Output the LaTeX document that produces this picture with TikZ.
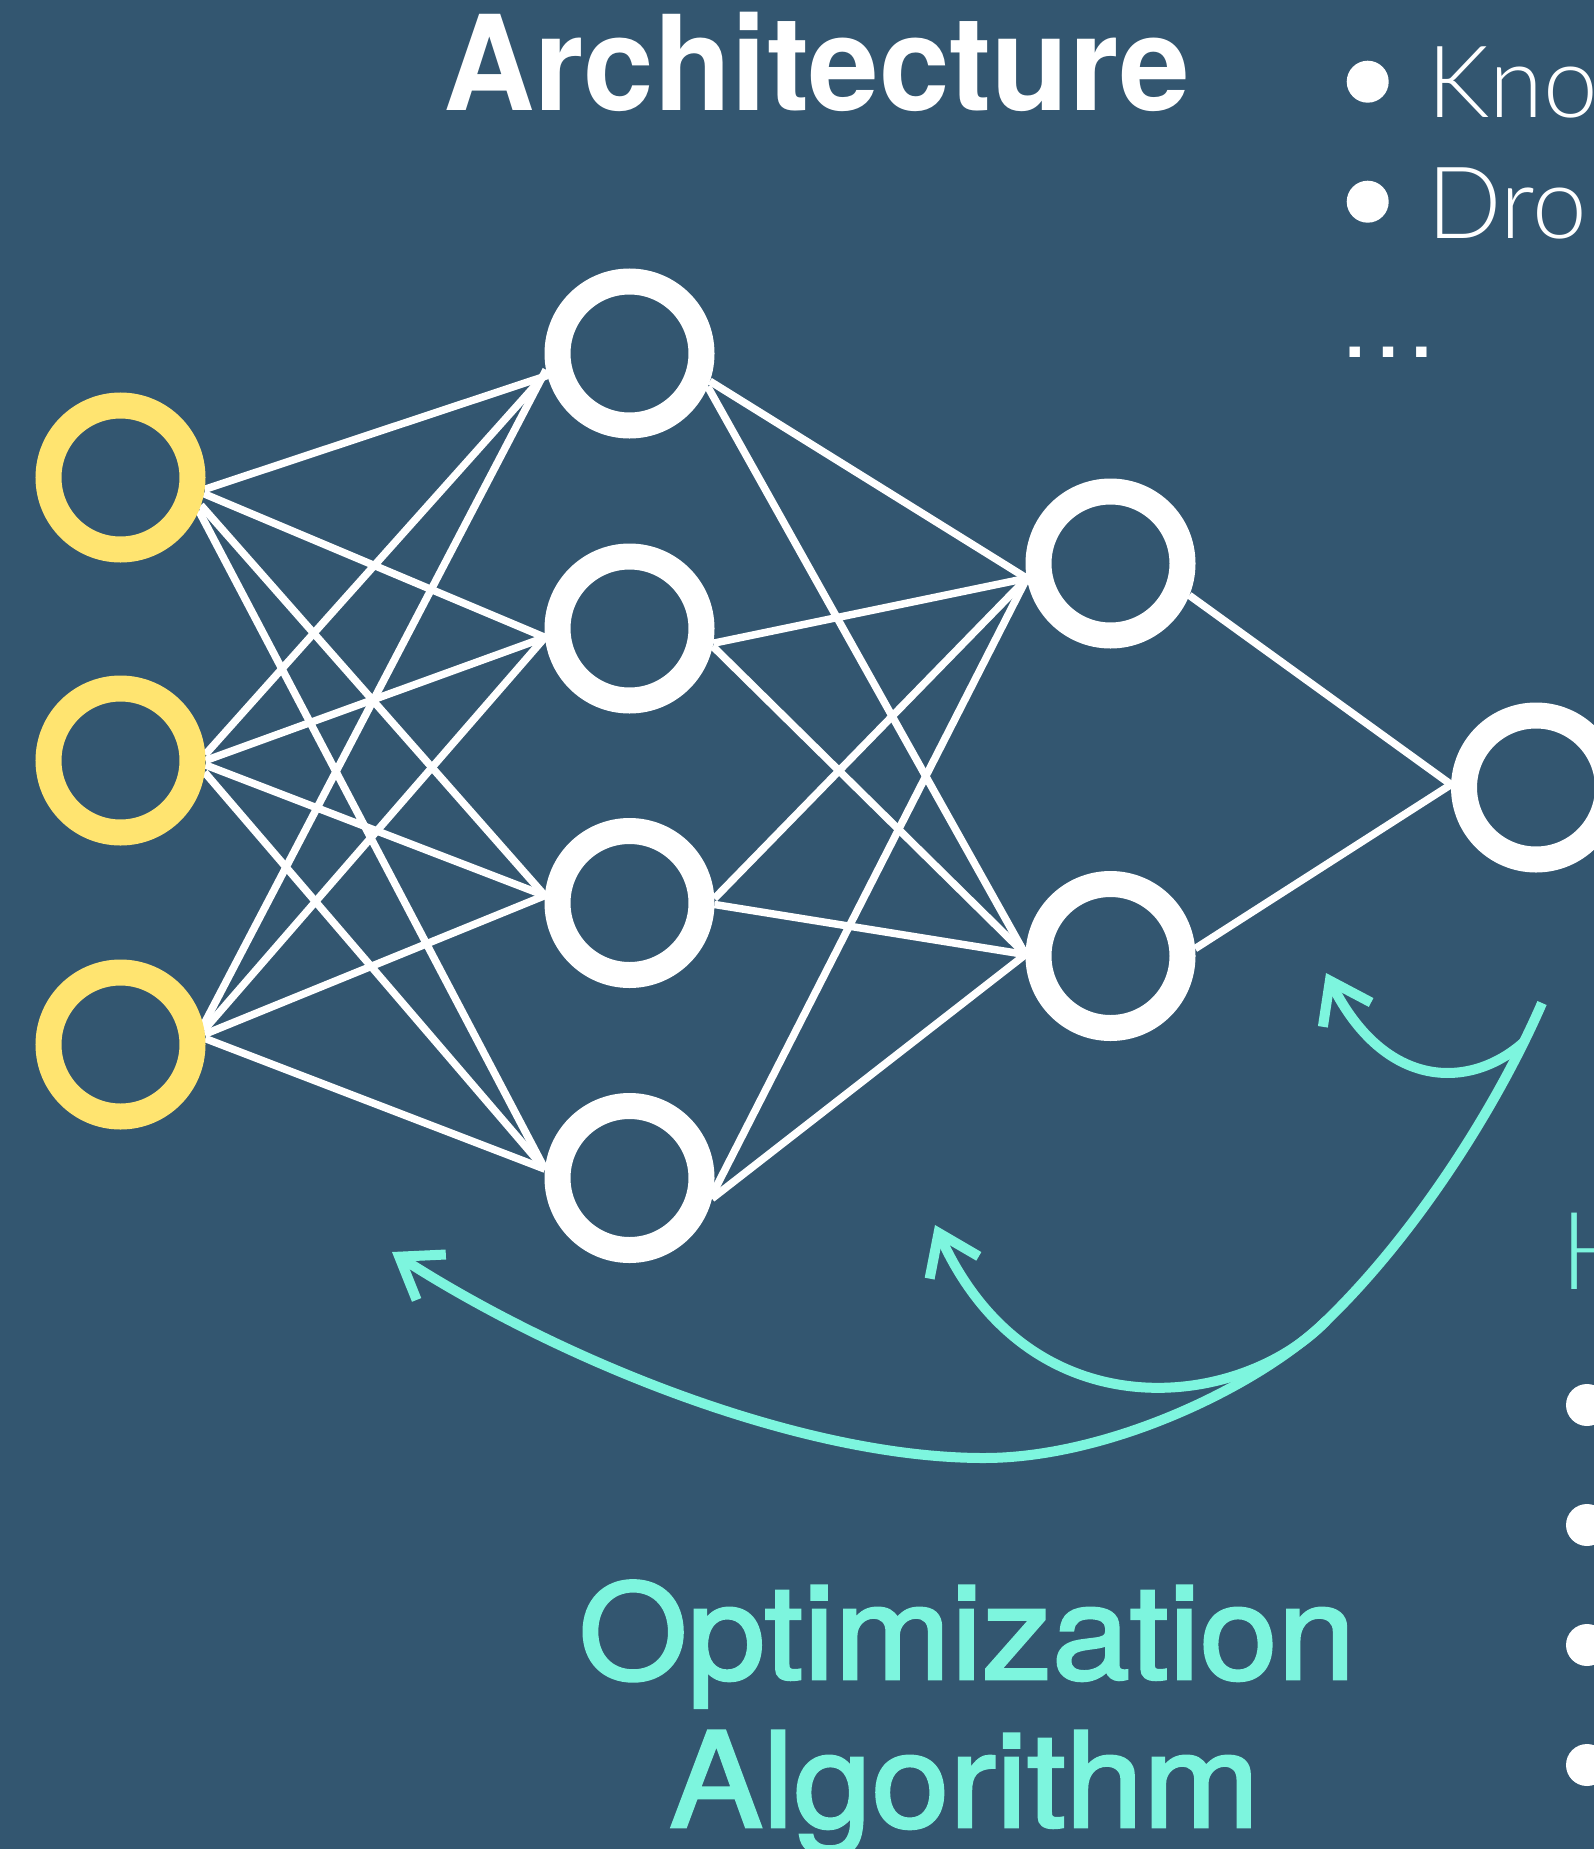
\documentclass[tikz,border=0pt]{standalone}
\usepackage{fontspec}
\usetikzlibrary{arrows.meta}
\newfontfamily\heros{TeX Gyre Heros}
\newfontfamily\herosmed[FakeBold=2]{TeX Gyre Heros}
\newfontfamily\thinsans{Lato Light}
\definecolor{bgblue}{RGB}{51,86,112}
\definecolor{inyellow}{RGB}{255,228,112}
\definecolor{mint}{RGB}{125,245,222}
\pgfdeclarelayer{bottom}
\pgfdeclarelayer{edges}
\pgfsetlayers{bottom,edges,main}
\tikzset{
  neuron/.style={circle, minimum size=144pt, inner sep=0pt, outer sep=13pt,
    line width=26pt, draw=white, fill=bgblue},
  inneuron/.style={neuron, draw=inyellow},
  link/.style={draw=white, line width=7.5pt},
  tealcurve/.style={draw=mint, line width=10pt,
    -{Straight Barb[length=38pt,width=54pt]}},
  dot/.style={circle, fill=white, inner sep=0pt},
  listtext/.style={anchor=base west, inner sep=0pt, text=white, xscale=0.98,
    font={\thinsans\fontsize{100}{100}\selectfont}},
}
\begin{document}
\begin{tikzpicture}[x=1pt,y=-1pt]
\begin{pgfonlayer}{bottom}
  \fill[bgblue] (0,0) rectangle (1594,1849);
\end{pgfonlayer}
\useasboundingbox (0,0) rectangle (1594,1849);
\clip (0,0) rectangle (1594,1849);

% input layer
\node[inneuron] (i1) at (120.5,477.5) {};
\node[inneuron] (i2) at (120.5,760.5) {};
\node[inneuron] (i3) at (120.5,1044.5) {};
% first hidden layer
\node[neuron] (h1) at (629.5,353.5) {};
\node[neuron] (h2) at (629.5,628.5) {};
\node[neuron] (h3) at (629.5,903) {};
\node[neuron] (h4) at (629.5,1178) {};
% second hidden layer
\node[neuron] (g1) at (1110.5,563.5) {};
\node[neuron] (g2) at (1110.5,956) {};
% output
\node[neuron] (o1) at (1536,787.5) {};

\begin{pgfonlayer}{edges}
  % input -> first hidden
  \draw[link] (i1.-8) -- (h1.195);
  \draw[link] (i1.-11) -- (h2.186);
  \draw[link] (i1.-19) -- (h3.175);
  \draw[link] (i1.-23) -- (h4.174);
  \draw[link] (i2.4) -- (h1.193);
  \draw[link] (i2.0) -- (h2.186);
  \draw[link] (i2.-3) -- (h3.175);
  \draw[link] (i2.-8) -- (h4.174);
  \draw[link] (i3.13) -- (h1.191);
  \draw[link] (i3.10) -- (h2.186);
  \draw[link] (i3.7) -- (h3.175);
  \draw[link] (i3.4) -- (h4.174);
  % first hidden -> second hidden
  \draw[link] (h1.-19) -- (g1.190);
  \draw[link] (h1.-23) -- (g2.179);
  \draw[link] (h2.-10) -- (g1.190);
  \draw[link] (h2.-12) -- (g2.179);
  \draw[link] (h3.3) -- (g1.190);
  \draw[link] (h3.-1) -- (g2.179);
  \draw[link] (h4.-10) -- (g1.190);
  \draw[link] (h4.-14) -- (g2.179);
  % second hidden -> output
  \draw[link] (g1.-22) -- (o1.178);
  \draw[link] (g2.5) -- (o1.178);
\end{pgfonlayer}

% feedback curves
\coordinate (stemtop) at (1542,1003);
\coordinate (j1) at (1523.7,1042.3);
\coordinate (j2) at (1326,1321);
\coordinate (sag) at (984,1458);
\coordinate (tipA) at (392,1252);
\coordinate (tipB) at (935,1225);
\coordinate (tipC) at (1326,973);
\draw[tealcurve] (stemtop) .. controls (1500,1100) and (1420,1230) .. (j2)
  .. controls (1260,1385) and (1110,1458) .. (sag)
  .. controls (800,1458) and (560,1360) .. (tipA);
\draw[tealcurve] (j1) .. controls (1470,1090) and (1385,1090) .. (tipC);
\draw[tealcurve] (j2) .. controls (1240,1410) and (1030,1435) .. (tipB);

% titles
\node[anchor=base west, inner sep=0pt, text=white, xscale=0.96,
  font={\heros\bfseries\fontsize{132}{132}\selectfont}] (arch) at (443,111) {Architecture};
\node[anchor=base, inner sep=0pt, text=mint, xscale=1.06,
  font={\herosmed\fontsize{132}{132}\selectfont}] (opt) at (967,1679) {Optimization};
\node[anchor=base, inner sep=0pt, text=mint, xscale=1.06,
  font={\herosmed\fontsize{132}{132}\selectfont}] (alg) at (964.5,1827) {Algorithm};

% upper right list
\node[dot, minimum size=42pt] (b1) at (1367.7,81.7) {};
\node[dot, minimum size=42pt] (b2) at (1367.7,201.7) {};
\node[listtext] (t1) at (1427,118) {Kno};
\node[listtext] (t2) at (1427,238) {Drop};
\node[anchor=base west, inner sep=0pt, text=white,
  font={\heros\fontsize{100}{100}\selectfont}] (t3) at (1338,357.7) {\symbol{"2026}};

% lower right list
\node[anchor=base west, inner sep=0pt, text=mint,
  font={\thinsans\fontsize{108}{108}\selectfont}] (hh) at (1560,1289) {H};
\node[dot, minimum size=42pt] (c1) at (1587,1405) {};
\node[dot, minimum size=42pt] (c2) at (1587,1525) {};
\node[dot, minimum size=42pt] (c3) at (1587,1645) {};
\node[dot, minimum size=42pt] (c4) at (1587,1765) {};
\end{tikzpicture}
\end{document}
